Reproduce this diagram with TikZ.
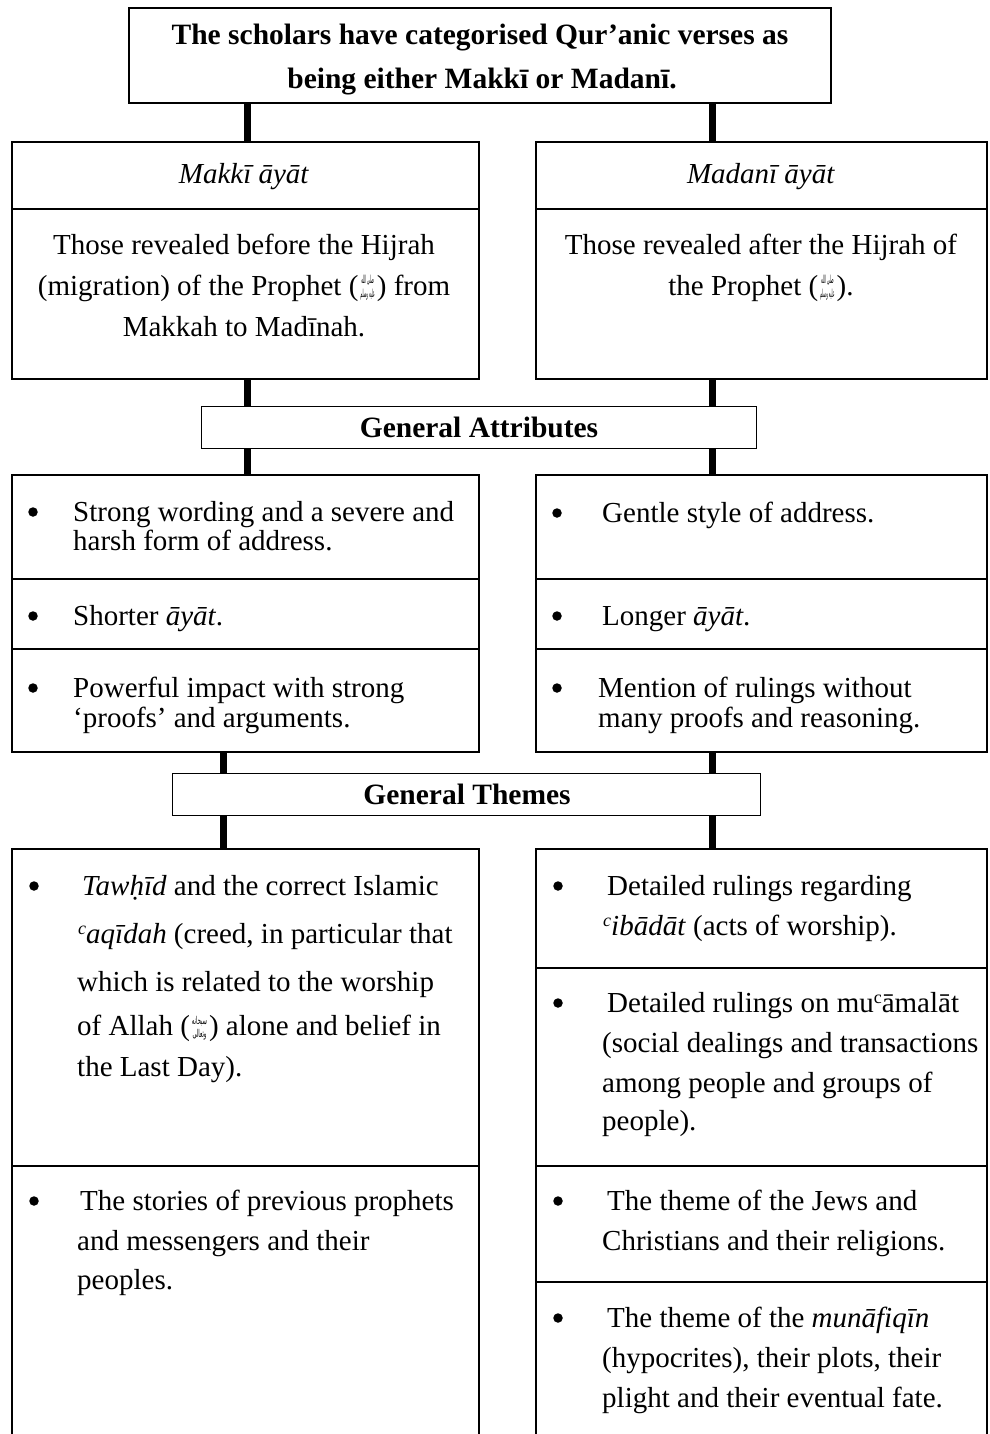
\documentclass[tikz,border=0pt]{standalone}
\usepackage{fontspec}
\usepackage{graphicx}
\setmainfont{Liberation Serif}
\newfontfamily\arabicfont[Script=Arabic]{DejaVu Sans}
\TeXXeTstate=1
\newcommand\sawsym{\kern2pt\raisebox{-0.1em}{\resizebox{0.5em}{0.8em}{\arabicfont\begin{tabular}[b]{@{}c@{}}\beginR صلى الله\endR\\[3pt]\beginR عليه وسلم\endR\end{tabular}}}\kern2pt}
\newcommand\swtsym{\kern2pt\raisebox{-0.1em}{\resizebox{0.52em}{0.78em}{\arabicfont\begin{tabular}[b]{@{}c@{}}\beginR سبحانه\endR\\[3pt]\beginR وتعالى\endR\end{tabular}}}\kern2pt}
\newcommand\supc[1]{\raisebox{0.3em}{\fontsize{18}{18}\selectfont #1}}
\begin{document}
\begin{tikzpicture}[x=1pt,y=-1pt,
  cell/.style={draw, line width=1.6pt, inner sep=0, anchor=north west},
  hcell/.style={draw, line width=1.3pt, inner sep=0, anchor=north west},
  conn/.style={line width=7pt},
  txt/.style={inner sep=0, anchor=base west, font=\fontsize{29}{34}\selectfont},
  ctxt/.style={inner sep=0, anchor=base, font=\fontsize{29}{34}\selectfont},
  hd/.style={inner sep=0, anchor=base, font=\fontsize{29.5}{34}\selectfont\bfseries},
  bul/.style={circle, fill, inner sep=0, minimum size=9.5pt}]
\useasboundingbox (0,0) rectangle (989,1434);
\clip (0,0) rectangle (989,1434);
% x positions of connectors
\coordinate (xL) at (247.5,0);
\coordinate (xL2) at (223,0);
\coordinate (xR) at (712,0);
% boxes
\node[cell, minimum width=702pt, minimum height=95pt] (top) at (128,7) {};
\node[cell, minimum width=467pt, minimum height=67pt] (makH) at (11,141) {};
\node[cell, minimum width=467pt, minimum height=170pt] (makB) at (11,208) {};
\node[cell, minimum width=451pt, minimum height=67pt] (madH) at (535,141) {};
\node[cell, minimum width=451pt, minimum height=170pt] (madB) at (535,208) {};
\node[hcell, minimum width=555pt, minimum height=42pt] (ga) at (201,406) {};
\node[cell, minimum width=467pt, minimum height=104pt] (aL1) at (11,474) {};
\node[cell, minimum width=467pt, minimum height=70pt] (aL2) at (11,578) {};
\node[cell, minimum width=467pt, minimum height=103pt] (aL3) at (11,648) {};
\node[cell, minimum width=451pt, minimum height=104pt] (aR1) at (535,474) {};
\node[cell, minimum width=451pt, minimum height=70pt] (aR2) at (535,578) {};
\node[cell, minimum width=451pt, minimum height=103pt] (aR3) at (535,648) {};
\node[hcell, minimum width=588pt, minimum height=42pt] (gt) at (172,773) {};
\node[cell, minimum width=467pt, minimum height=317pt] (tL1) at (11,848) {};
\node[cell, minimum width=467pt, minimum height=300pt] (tL2) at (11,1165) {};
\node[cell, minimum width=451pt, minimum height=119pt] (tR1) at (535,848) {};
\node[cell, minimum width=451pt, minimum height=198pt] (tR2) at (535,967) {};
\node[cell, minimum width=451pt, minimum height=116pt] (tR3) at (535,1165) {};
\node[cell, minimum width=451pt, minimum height=180pt] (tR4) at (535,1281) {};
% connectors
\draw[conn] (top.south -| xL) -- (makH.north -| xL);
\draw[conn] (top.south -| xR) -- (madH.north -| xR);
\draw[conn] (makB.south -| xL) -- (ga.north -| xL);
\draw[conn] (madB.south -| xR) -- (ga.north -| xR);
\draw[conn] (ga.south -| xL) -- (aL1.north -| xL);
\draw[conn] (ga.south -| xR) -- (aR1.north -| xR);
\draw[conn] (aL3.south -| xL2) -- (gt.north -| xL2);
\draw[conn] (aR3.south -| xR) -- (gt.north -| xR);
\draw[conn] (gt.south -| xL2) -- (tL1.north -| xL2);
\draw[conn] (gt.south -| xR) -- (tR1.north -| xR);
% title
\node[hd] (ti1) at (480,45) {The scholars have categorised Qur’anic verses as};
\node[hd] (ti2) at (482,89) {being either Makkī or Madanī.};
% headers
\node[ctxt] (makT) at (244,184) {\textit{Makkī āyāt}};
\node[ctxt] (madT) at (761,184) {\textit{Madanī āyāt}};
\node[ctxt] (mb1) at (244,254) {Those revealed before the Hijrah};
\node[ctxt] (mb2) at (244,295) {(migration) of the Prophet (\sawsym) from};
\node[ctxt] (mb3) at (244,336) {Makkah to Madīnah.};
\node[ctxt] (db1) at (761,254) {Those revealed after the Hijrah of};
\node[ctxt] (db2) at (761,295) {the Prophet (\sawsym).};
\node[hd] (gaT) at (479,437) {General Attributes};
\node[hd] (gtT) at (467,804) {General Themes};
% attributes left
\node[bul] (b1) at (33,512) {};
\node[txt] (l1a) at (73,521) {Strong wording and a severe and};
\node[txt] (l1b) at (73,550) {harsh form of address.};
\node[bul] (b2) at (33,616) {};
\node[txt] (l2a) at (73,625) {Shorter \textit{āyāt}.};
\node[bul] (b3) at (33,688) {};
\node[txt] (l3a) at (73,697) {Powerful impact with strong};
\node[txt] (l3b) at (73,727) {‘proofs’ and arguments.};
% attributes right
\node[bul] (b4) at (557,513) {};
\node[txt] (r1a) at (602,522) {Gentle style of address.};
\node[bul] (b5) at (557,616) {};
\node[txt] (r2a) at (602,625) {Longer \textit{āyāt}.};
\node[bul] (b6) at (557,688) {};
\node[txt] (r3a) at (598,697) {Mention of rulings without};
\node[txt] (r3b) at (598,727) {many proofs and reasoning.};
% themes left
\node[bul] (b7) at (34,886) {};
\node[txt] (t1a) at (82,895) {\textit{Tawḥīd} and the correct Islamic};
\node[txt] (t1b) at (78,943) {\supc{\textit{c}}\textit{aqīdah} (creed, in particular that};
\node[txt] (t1c) at (77,991) {which is related to the worship};
\node[txt] (t1d) at (77,1035) {of Allah (\swtsym) alone and belief in};
\node[txt] (t1e) at (77,1076) {the Last Day).};
\node[bul] (b8) at (34,1201) {};
\node[txt] (t2a) at (80,1210) {The stories of previous prophets};
\node[txt] (t2b) at (77,1250) {and messengers and their};
\node[txt] (t2c) at (77,1289) {peoples.};
% themes right
\node[bul] (b9) at (558,886) {};
\node[txt] (s1a) at (607,895) {Detailed rulings regarding};
\node[txt] (s1b) at (603,935) {\supc{\textit{c}}\textit{ibādāt} (acts of worship).};
\node[bul] (b10) at (558,1003) {};
\node[txt] (s2a) at (607,1012) {Detailed rulings on mu\supc{c}āmalāt};
\node[txt] (s2b) at (602,1052) {(social dealings and transactions};
\node[txt] (s2c) at (602,1092) {among people and groups of};
\node[txt] (s2d) at (602,1130) {people).};
\node[bul] (b11) at (558,1201) {};
\node[txt] (s3a) at (607,1210) {The theme of the Jews and};
\node[txt] (s3b) at (602,1250) {Christians and their religions.};
\node[bul] (b12) at (558,1318) {};
\node[txt] (s4a) at (607,1327) {The theme of the \textit{munāfiqīn}};
\node[txt] (s4b) at (602,1367) {(hypocrites), their plots, their};
\node[txt] (s4c) at (602,1407) {plight and their eventual fate.};
\end{tikzpicture}
\end{document}
